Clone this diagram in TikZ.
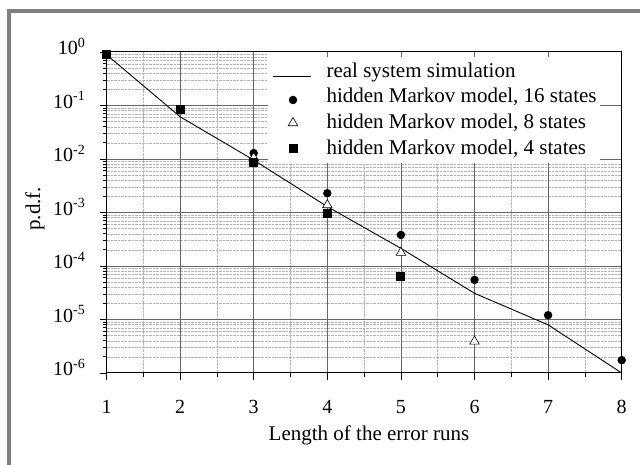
\documentclass[tikz,border=0pt]{standalone}
\usepackage{fontspec}
\setmainfont{Liberation Serif}
\usepackage{tikz}
\usepgflibrary{shapes}

\begin{document}
\begin{tikzpicture}[
    majorgrid/.style={black!60, line width=0.8pt},
    minorgrid/.style={black!30, line width=0.5pt, dash pattern=on 0.5pt off 0.9pt},
    dot16/.style={circle, fill=black, inner sep=0pt, minimum size=8.5pt},
    tri8/.style={regular polygon, regular polygon sides=3, draw=black, fill=white, line width=0.6pt, inner sep=0pt, minimum size=11pt},
    sq4/.style={rectangle, fill=black, inner sep=0pt, minimum size=9pt},
    ticklabel/.style={font=\fontsize{20}{20}\selectfont},
    axislabel/.style={font=\fontsize{21}{21}\selectfont},
  ]
  \useasboundingbox (0,0) rectangle (640pt,465pt);
  \fill[black!50] (7pt,0) rectangle (11pt,456pt);
  \fill[black!50] (7pt,452pt) rectangle (640pt,456pt);
  \begin{scope}[x=73.6pt, y=53.5pt, shift={(32.9pt,413pt)}]
    \foreach \d in {-6,...,-1}
      \foreach \m in {2,...,9}
        \draw[minorgrid] (1,{\d+log10(\m)}) -- (8,{\d+log10(\m)});
    \foreach \u in {1.5,2.5,...,7.5}
      \draw[minorgrid] (\u,-6) -- (\u,0);
    \foreach \u in {2,...,7}
      \draw[majorgrid] (\u,-6) -- (\u,0);
    \foreach \d in {-5,...,-1}
      \draw[majorgrid] (1,\d) -- (8,\d);
    \fill[white] (3.194,-2.075) rectangle (8,0);
    \foreach \d in {-1,-2}
      \draw[majorgrid] (7.70,\d) -- (8,\d);
    \foreach \u in {4,...,7}
      \draw[majorgrid] (\u,0) -- (\u,-0.09);
    \draw[line width=1pt] (1,-6) rectangle (8,0);
    \foreach \d in {-6,...,0}
      \draw[line width=0.8pt] (0.905,\d) -- (1,\d);
    \foreach \d in {-6,...,-1}
      \foreach \m in {2,...,9}
        \draw[line width=0.8pt] (0.946,{\d+log10(\m)}) -- (1,{\d+log10(\m)});
    \foreach \u in {1,...,8}
      \draw[line width=0.8pt] (\u,-6) -- (\u,-6.131);
    \foreach \u in {1.5,2.5,...,7.5}
      \draw[line width=0.8pt] (\u,-6) -- (\u,-6.075);

    \foreach \d/\t in {0/0,1/-1,2/-2,3/-3,4/-4,5/-5,6/-6}
      \node[ticklabel, anchor=base east, yshift=-3pt, name=ylab\d] at (0.76,-\d) {10\textsuperscript{\t}};
    \foreach \u in {1,...,8}
      \node[ticklabel, anchor=base, yshift=-41pt, name=xlab\u] at (\u,-6) {\u};
    \node[axislabel, anchor=base, yshift=-68pt, name=xtitle] at (4.567,-6) {Length of the error runs};
    \node[axislabel, rotate=90, name=ytitle] at (0.0285,-2.93) {p.d.f.};

    \foreach \u/\d in {1/-0.05,2/-1.21,3/-2.02,4/-2.89,5/-3.67,6/-4.51,7/-5.10,8/-6}
      \coordinate (r\u) at (\u,\d);
    \draw[line width=0.9pt] (r1) -- (r2) -- (r3) -- (r4) -- (r5) -- (r6) -- (r7) -- (r8);
    \foreach \u/\d in {3/-1.89,4/-2.64,5/-3.42,6/-4.26,7/-4.92,8/-5.76}
      \node[dot16, name=c\u] at (\u,\d) {};
    \foreach \u/\d in {3/-1.98,4/-2.86,5/-3.75,6/-5.41}
      \node[tri8, name=t\u] at (\u,\d) {};
    \foreach \u/\d in {1/-0.05,2/-1.08,3/-2.06,4/-3.01,5/-4.2}
      \node[sq4, name=s\u] at (\u,\d) {};

    \coordinate (legA) at (3.262,-0.449);
    \coordinate (legB) at (3.779,-0.449);
    \draw[line width=0.9pt] (legA) -- (legB);
    \node[dot16, name=legc] at (3.534,-0.897) {};
    \node[tri8, name=legt] at (3.534,-1.327) {};
    \node[sq4, name=legs] at (3.534,-1.813) {};
    \node[axislabel, anchor=base west, name=leg1] at (3.942,-0.486) {real system simulation};
    \node[axislabel, anchor=base west, name=leg2] at (3.942,-0.953) {hidden Markov model, 16 states};
    \node[axislabel, anchor=base west, name=leg3] at (3.942,-1.421) {hidden Markov model, 8 states};
    \node[axislabel, anchor=base west, name=leg4] at (3.942,-1.907) {hidden Markov model, 4 states};
  \end{scope}
\end{tikzpicture}
\end{document}
